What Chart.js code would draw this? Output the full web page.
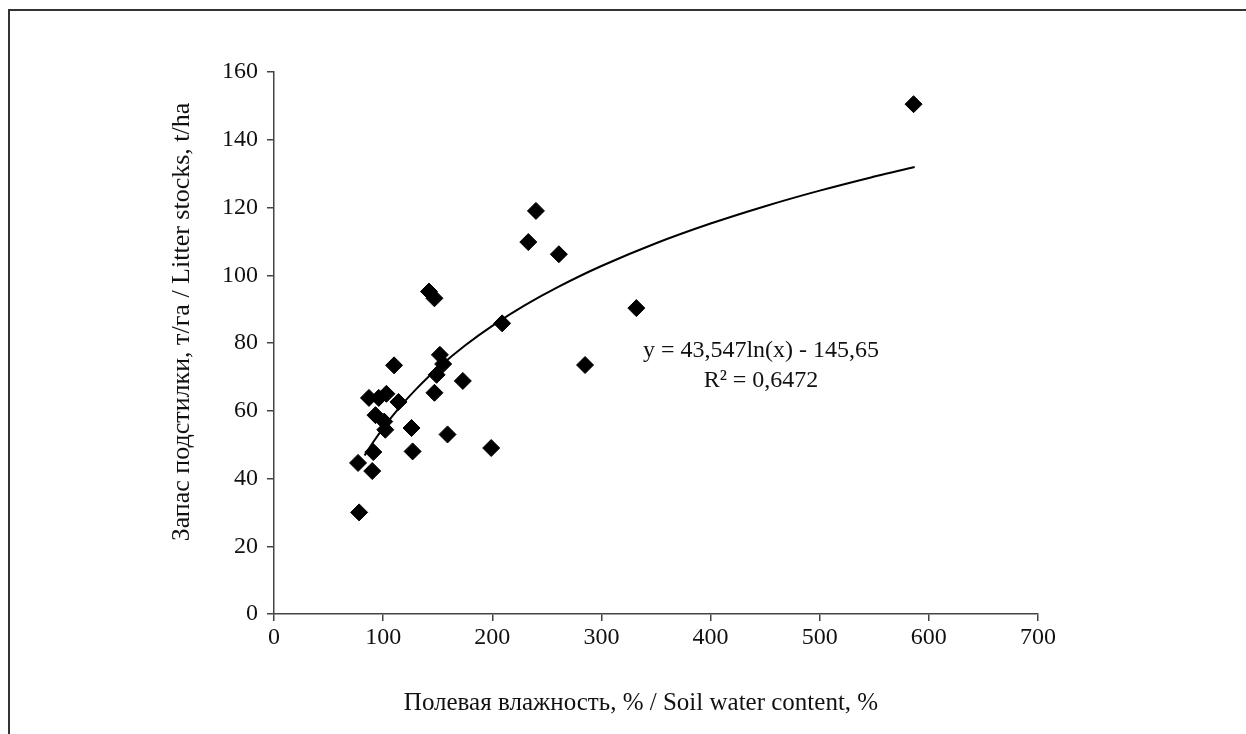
<!DOCTYPE html>
<html>
<head>
<meta charset="utf-8">
<script src="https://cdn.jsdelivr.net/npm/chart.js@4.4.1/dist/chart.umd.min.js"></script>
<style>
  body { margin: 0; background: #fff; }
  #wrap { position: relative; width: 1246px; height: 734px; }
  #frame { position: absolute; left: 8px; top: 9px; right: 0; bottom: 0;
           border-top: 2px solid #333; border-left: 2px solid #333; }
  canvas { position: absolute; left: 0; top: 0; }
</style>
</head>
<body>
<div id="wrap">
  <div id="frame"></div>
  <canvas id="chart" width="1246" height="734"></canvas>
</div>
<script>
// Soil water content, % (x) and litter stocks, t/ha (y)
const waterContent = [586, 78, 77, 90, 91, 87, 96, 103, 114, 93, 101, 102, 110, 126, 127,
    142, 147, 152, 155, 149, 147, 159, 173, 199, 209, 233, 240, 261, 285, 332];
const litterStocks = [150.5, 30, 44.6, 42.2, 47.8, 63.8, 63.8, 65, 62.6, 58.7, 56.8, 54.4, 73.4, 54.9, 48,
    95.2, 93.2, 76.5, 73.8, 70.6, 65.3, 53, 68.8, 49, 85.8, 109.8, 119, 106.2, 73.5, 90.3];

// logarithmic trendline as printed on the chart
const trendA = 43.547;
const trendB = -145.65;
const trendX = [83, 90, 100, 115, 130, 150, 175, 200, 230, 260, 300, 350, 400, 450, 500, 550, 587];

const xTicks = [0, 100, 200, 300, 400, 500, 600, 700];
const yTicks = [0, 20, 40, 60, 80, 100, 120, 140, 160];

const xTitle = 'Полевая влажность, % / Soil water content, %';
const yTitle = 'Запас подстилки, т/га / Litter stocks, t/ha';
const eqLines = ['y = 43,547ln(x) - 145,65', 'R² = 0,6472'];

const points = waterContent.map((x, i) => ({ x: x, y: litterStocks[i] }));
const trend = trendX.map(x => ({ x: x, y: trendA * Math.log(x) + trendB }));

const font = 'Liberation Serif';

const textPlugin = {
    id: 'texts',
    afterDraw(chart) {
        const ctx = chart.ctx;
        ctx.save();
        ctx.fillStyle = '#111';
        ctx.textAlign = 'center';
        ctx.textBaseline = 'middle';
        ctx.font = '25px "' + font + '"';
        ctx.fillText(xTitle, 641, 703);
        ctx.font = '24px "' + font + '"';
        ctx.fillText(eqLines[0], 761, 351);
        ctx.fillText(eqLines[1], 761, 381);
        ctx.font = '26px "' + font + '"';
        ctx.translate(182, 322);
        ctx.rotate(-Math.PI / 2);
        ctx.fillText(yTitle, 0, 0);
        ctx.restore();
    }
};

const axisColor = '#444';

new Chart(document.getElementById('chart'), {
    type: 'scatter',
    data: {
        datasets: [{
            data: points,
            pointStyle: 'rectRot',
            pointRadius: 8.5,
            backgroundColor: '#000',
            borderColor: '#000',
            borderWidth: 1
        }, {
            type: 'line',
            data: trend,
            borderColor: '#000',
            borderWidth: 2,
            pointRadius: 0,
            tension: 0.4,
            fill: false
        }]
    },
    options: {
        responsive: false,
        animation: false,
        layout: { padding: { top: 72, right: 208, left: 0, bottom: 0 } },
        plugins: { legend: { display: false }, tooltip: { enabled: false } },
        scales: {
            x: {
                type: 'linear',
                min: 0,
                max: 700,
                afterBuildTicks: s => { s.ticks = xTicks.map(v => ({ value: v })); },
                afterFit: s => { s.height = 120; },
                ticks: { color: '#111', font: { family: font, size: 24 }, padding: 2 },
                grid: { drawOnChartArea: false, color: axisColor, tickLength: 7, lineWidth: 1.5 },
                border: { color: axisColor, width: 1.5 }
            },
            y: {
                min: 0,
                max: 160,
                afterBuildTicks: s => { s.ticks = yTicks.map(v => ({ value: v })); },
                afterFit: s => { s.width = 274; },
                ticks: { color: '#111', font: { family: font, size: 24 }, padding: 9 },
                grid: { drawOnChartArea: false, color: axisColor, tickLength: 7, lineWidth: 1.5 },
                border: { color: axisColor, width: 1.5 }
            }
        }
    },
    plugins: [textPlugin]
});
</script>
</body>
</html>
